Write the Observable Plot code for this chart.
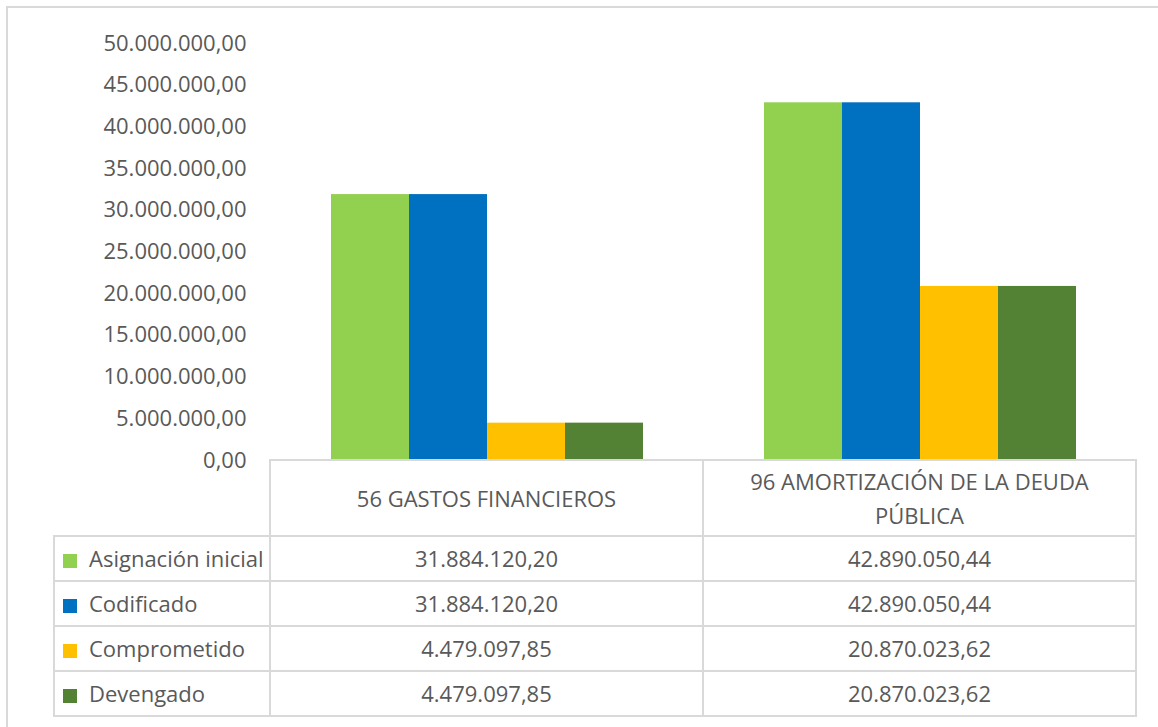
<!DOCTYPE html>
<html>
<head>
<meta charset="utf-8">
<script src="https://cdn.jsdelivr.net/npm/d3@7"></script>
<script src="https://cdn.jsdelivr.net/npm/@observablehq/plot@0.6"></script>
<style>
  html, body { margin: 0; padding: 0; background: #fff; }
  body { width: 1158px; height: 727px; position: relative; overflow: hidden; font-family: "Open Sans", sans-serif; color: #595959; }
  #frame { position: absolute; left: 6px; top: 6px; width: 1200px; height: 800px; border: 2px solid #d9d9d9; box-sizing: border-box; }
  #chart { position: absolute; left: 0; top: 0; }
  #tbl { position: absolute; left: 53px; top: 459px; border-collapse: collapse; table-layout: fixed; font-size: 22px; color: #595959; }
  #tbl td { border: 2px solid #d9d9d9; text-align: center; padding: 0; white-space: pre-line; }
  #tbl td.blank { border-top: none; border-left: none; }
  #tbl td.leg { text-align: left; padding-left: 8px; white-space: nowrap; }
  #tbl tr.head td { height: 74px; line-height: 34px; }
  #tbl tr.row td { height: 43px; line-height: 43px; }
  .sw { display: inline-block; width: 14px; height: 14px; margin-right: 12px; vertical-align: -1px; }
</style>
</head>
<body>
<div id="frame"></div>
<div id="chart"></div>
<table id="tbl"></table>
<script>
const categories = ["56 GASTOS FINANCIEROS", "96 AMORTIZACIÓN DE LA DEUDA PÚBLICA"];
const categoryLabels = ["56 GASTOS FINANCIEROS", "96 AMORTIZACIÓN DE LA DEUDA\nPÚBLICA"];
const series = ["Asignación inicial", "Codificado", "Comprometido", "Devengado"];
const colors = ["#92D050", "#0070C0", "#FFC000", "#548235"];
const asignacionInicial = [31884120.20, 42890050.44];
const codificado = [31884120.20, 42890050.44];
const comprometido = [4479097.85, 20870023.62];
const devengado = [4479097.85, 20870023.62];
const yTicks = [0, 5000000, 10000000, 15000000, 20000000, 25000000, 30000000, 35000000, 40000000, 45000000, 50000000];

const seriesValues = [asignacionInicial, codificado, comprometido, devengado];
const data = [];
categories.forEach((c, i) => {
  series.forEach((s, j) => {
    data.push({category: c, series: s, value: seriesValues[j][i]});
  });
});

const locale = d3.formatLocale({decimal: ",", thousands: ".", grouping: [3], currency: ["", ""]});
const fmt = locale.format(",.2f");

const chart = Plot.plot({
  width: 1158,
  height: 460,
  marginLeft: 270,
  marginRight: 22,
  marginTop: 43,
  marginBottom: 0,
  style: {fontSize: "22px", fontFamily: "Open Sans, sans-serif", color: "#595959", background: "transparent", overflow: "visible"},
  fx: {domain: categories, padding: 0, axis: null},
  x: {domain: series, paddingInner: 0, paddingOuter: 0.75, axis: null},
  y: {domain: [0, 50000000], ticks: yTicks, tickFormat: fmt, tickSize: 0, tickPadding: 24, label: null},
  color: {domain: series, range: colors},
  marks: [
    Plot.barY(data, {fx: "category", x: "series", y: "value", fill: "series"})
  ]
});
document.getElementById("chart").appendChild(chart);

// data table below the chart
const tbl = document.getElementById("tbl");
const colgroup = document.createElement("colgroup");
[216, 433, 433].forEach(w => { const c = document.createElement("col"); c.style.width = w + "px"; colgroup.appendChild(c); });
tbl.appendChild(colgroup);
const head = document.createElement("tr");
head.className = "head";
const blank = document.createElement("td");
blank.className = "blank";
head.appendChild(blank);
categoryLabels.forEach(l => { const td = document.createElement("td"); td.textContent = l; head.appendChild(td); });
tbl.appendChild(head);
series.forEach((s, j) => {
  const tr = document.createElement("tr");
  tr.className = "row";
  const td0 = document.createElement("td");
  td0.className = "leg";
  const sw = document.createElement("span");
  sw.className = "sw";
  sw.style.background = colors[j];
  td0.appendChild(sw);
  td0.appendChild(document.createTextNode(s));
  tr.appendChild(td0);
  categories.forEach((c, i) => {
    const td = document.createElement("td");
    td.textContent = fmt(seriesValues[j][i]);
    tr.appendChild(td);
  });
  tbl.appendChild(tr);
});
</script>
</body>
</html>
